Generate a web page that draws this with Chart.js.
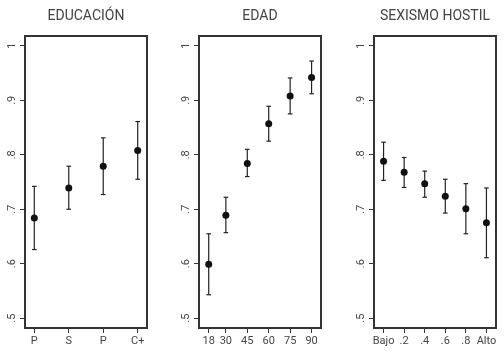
<!DOCTYPE html>
<html>
<head>
<meta charset="utf-8">
<script src="https://cdn.jsdelivr.net/npm/chart.js@4"></script>
<style>
  html, body { margin: 0; padding: 0; background: #fff; overflow: hidden; }
  body { width: 504px; height: 351px; position: relative; }
  canvas { position: absolute; top: 0; }
</style>
</head>
<body>
<canvas id="edu" width="172" height="351" style="left:0px"></canvas>
<canvas id="edad" width="172" height="351" style="left:174px"></canvas>
<canvas id="sexismo" width="172" height="351" style="left:349px"></canvas>
<script>
// shared y axis
var yTicks = [0.5, 0.6, 0.7, 0.8, 0.9, 1];
var yLabels = ['.5', '.6', '.7', '.8', '.9', '1'];

// Educación
var eduX = [0, 1, 2, 3];
var eduLabels = ['P', 'S', 'P', 'C+'];
var eduMean = [0.684, 0.739, 0.779, 0.808];
var eduLow = [0.626, 0.700, 0.727, 0.755];
var eduHigh = [0.742, 0.779, 0.831, 0.861];

// Edad
var edadX = [18, 30, 45, 60, 75, 90];
var edadLabels = ['18', '30', '45', '60', '75', '90'];
var edadMean = [0.599, 0.689, 0.784, 0.857, 0.908, 0.942];
var edadLow = [0.543, 0.657, 0.760, 0.825, 0.875, 0.912];
var edadHigh = [0.655, 0.722, 0.810, 0.889, 0.941, 0.972];

// Sexismo hostil
var sexX = [0, 0.2, 0.4, 0.6, 0.8, 1];
var sexLabels = ['Bajo', '.2', '.4', '.6', '.8', 'Alto'];
var sexMean = [0.788, 0.768, 0.747, 0.724, 0.701, 0.675];
var sexLow = [0.753, 0.740, 0.722, 0.693, 0.655, 0.611];
var sexHigh = [0.823, 0.795, 0.770, 0.755, 0.747, 0.739];

var ink = '#222';
var textCol = '#444';

var frame = {
  id: 'frame',
  afterDraw: function(chart) {
    var a = chart.chartArea, c = chart.ctx;
    c.save();
    c.strokeStyle = '#333';
    c.lineWidth = 2;
    c.strokeRect(a.left, a.top, a.right - a.left, a.bottom - a.top);
    c.restore();
  }
};

function makePanel(id, title, xs, xLabels, mean, low, high, xMin, xMax) {
  var datasets = [{
    data: xs.map(function(x, i) { return {x: x, y: mean[i]}; }),
    pointRadius: 3.5,
    pointBackgroundColor: '#111',
    pointBorderColor: '#111',
    pointBorderWidth: 0,
    showLine: false
  }];
  xs.forEach(function(x, i) {
    datasets.push({
      data: [{x: x, y: low[i]}, {x: x, y: high[i]}],
      showLine: true,
      borderColor: ink,
      borderWidth: 1.2,
      pointStyle: 'line',
      pointRadius: 2.3,
      pointBorderColor: ink,
      pointBorderWidth: 1.2
    });
  });

  new Chart(document.getElementById(id), {
    type: 'scatter',
    data: { datasets: datasets },
    plugins: [frame],
    options: {
      responsive: false,
      animation: false,
      layout: { padding: 0 },
      plugins: {
        legend: { display: false },
        tooltip: { enabled: false },
        title: {
          display: true,
          text: title,
          color: '#444',
          font: { family: 'Roboto', size: 14, weight: 'normal' },
          padding: { top: 8.5, bottom: 10.7 }
        }
      },
      scales: {
        x: {
          type: 'linear',
          min: xMin,
          max: xMax,
          border: { display: false },
          grid: { drawOnChartArea: false, drawTicks: true, tickLength: 5, tickColor: '#333', tickWidth: 1 },
          afterBuildTicks: function(s) { s.ticks = xs.map(function(v) { return {value: v}; }); },
          afterFit: function(s) { s.height = 23; s.paddingLeft = 0; s.paddingRight = 0; },
          ticks: {
            autoSkip: false, minRotation: 0, maxRotation: 0, padding: 1.5,
            color: textCol,
            font: { family: 'Roboto', size: 11 },
            callback: function(v, i) { return xLabels[i]; }
          }
        },
        y: {
          type: 'linear',
          min: 0.482,
          max: 1.018,
          border: { display: false },
          grid: { drawOnChartArea: false, drawTicks: true, tickLength: 5, tickColor: '#333', tickWidth: 1 },
          afterBuildTicks: function(s) { s.ticks = yTicks.map(function(v) { return {value: v}; }); },
          afterFit: function(s) { s.width = 25; s.paddingTop = 0; s.paddingBottom = 0; },
          ticks: {
            minRotation: 90, maxRotation: 90, crossAlign: 'center', padding: 3.5,
            color: textCol,
            font: { family: 'Roboto', size: 11 },
            callback: function(v, i) { return yLabels[i]; }
          }
        },
        // empty right gutter so the title centres over the plot box
        yRight: {
          type: 'linear',
          position: 'right',
          display: true,
          border: { display: false },
          grid: { display: false },
          ticks: { display: false },
          afterFit: function(s) { s.width = 25; s.paddingTop = 0; s.paddingBottom = 0; }
        }
      }
    }
  });
}

makePanel('edu', 'EDUCACIÓN', eduX, eduLabels, eduMean, eduLow, eduHigh, -0.27, 3.27);
makePanel('edad', 'EDAD', edadX, edadLabels, edadMean, edadLow, edadHigh, 11.2, 96.6);
makePanel('sexismo', 'SEXISMO HOSTIL', sexX, sexLabels, sexMean, sexLow, sexHigh, -0.093, 1.093);
</script>
</body>
</html>
